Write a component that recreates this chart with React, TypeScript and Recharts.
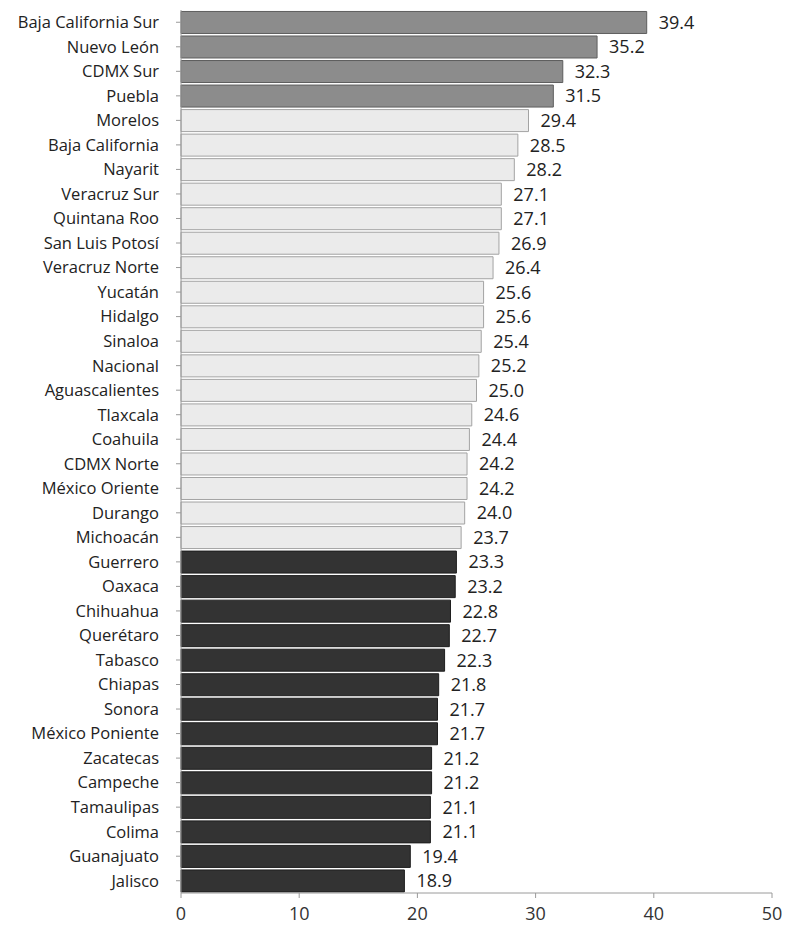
import { BarChart, Bar, XAxis, YAxis, Cell, LabelList } from "recharts";

const estados = [
  "Baja California Sur", "Nuevo León", "CDMX Sur", "Puebla", "Morelos",
  "Baja California", "Nayarit", "Veracruz Sur", "Quintana Roo", "San Luis Potosí",
  "Veracruz Norte", "Yucatán", "Hidalgo", "Sinaloa", "Nacional",
  "Aguascalientes", "Tlaxcala", "Coahuila", "CDMX Norte", "México Oriente",
  "Durango", "Michoacán", "Guerrero", "Oaxaca", "Chihuahua",
  "Querétaro", "Tabasco", "Chiapas", "Sonora", "México Poniente",
  "Zacatecas", "Campeche", "Tamaulipas", "Colima", "Guanajuato", "Jalisco",
];

const valores = [
  39.4, 35.2, 32.3, 31.5, 29.4, 28.5, 28.2, 27.1, 27.1, 26.9,
  26.4, 25.6, 25.6, 25.4, 25.2, 25.0, 24.6, 24.4, 24.2, 24.2,
  24.0, 23.7, 23.3, 23.2, 22.8, 22.7, 22.3, 21.8, 21.7, 21.7,
  21.2, 21.2, 21.1, 21.1, 19.4, 18.9,
];

// grupo de cada barra: alto / medio / bajo
const grupos = [
  "alto", "alto", "alto", "alto",
  "medio", "medio", "medio", "medio", "medio", "medio", "medio", "medio", "medio",
  "medio", "medio", "medio", "medio", "medio", "medio", "medio", "medio", "medio",
  "bajo", "bajo", "bajo", "bajo", "bajo", "bajo", "bajo", "bajo", "bajo",
  "bajo", "bajo", "bajo", "bajo", "bajo",
];

const xTicks = [0, 10, 20, 30, 40, 50];

const colores: Record<string, { fill: string; stroke: string }> = {
  alto: { fill: "#8c8c8c", stroke: "#5e5e5e" },
  medio: { fill: "#ebebeb", stroke: "#a3a3a3" },
  bajo: { fill: "#333333", stroke: "#1e1e1e" },
};

const data = estados.map((estado, i) => ({
  estado,
  valor: valores[i],
  grupo: grupos[i],
}));

const font = "'Open Sans', sans-serif";

export default function App() {
  return (
    <div style={{ position: "absolute", left: 0, top: 0, background: "#fff" }}>
      <BarChart
        width={785}
        height={931}
        data={data}
        layout="vertical"
        margin={{ top: 10, right: 13, bottom: 0, left: 0 }}
        barCategoryGap="6%"
      >
        <XAxis
          type="number"
          domain={[0, 50]}
          ticks={xTicks}
          height={38}
          axisLine={{ stroke: "#9a9a9a" }}
          tickLine={{ stroke: "#9a9a9a" }}
          tickSize={5}
          tickMargin={9}
          tick={{ fill: "#333", fontSize: 18, fontFamily: font }}
        />
        <YAxis
          type="category"
          dataKey="estado"
          width={181}
          interval={0}
          axisLine={{ stroke: "#9a9a9a" }}
          tickLine={{ stroke: "#9a9a9a" }}
          tickSize={5}
          tickMargin={17}
          tick={{ fill: "#222", fontSize: 16.5, fontFamily: font }}
        />
        <Bar dataKey="valor" isAnimationActive={false} strokeWidth={1}>
          {data.map((d) => (
            <Cell key={d.estado} fill={colores[d.grupo].fill} stroke={colores[d.grupo].stroke} />
          ))}
          <LabelList
            dataKey="valor"
            position="right"
            offset={12}
            formatter={(v: number) => v.toFixed(1)}
            style={{ fill: "#222", fontSize: 18, fontFamily: font }}
          />
        </Bar>
      </BarChart>
    </div>
  );
}
